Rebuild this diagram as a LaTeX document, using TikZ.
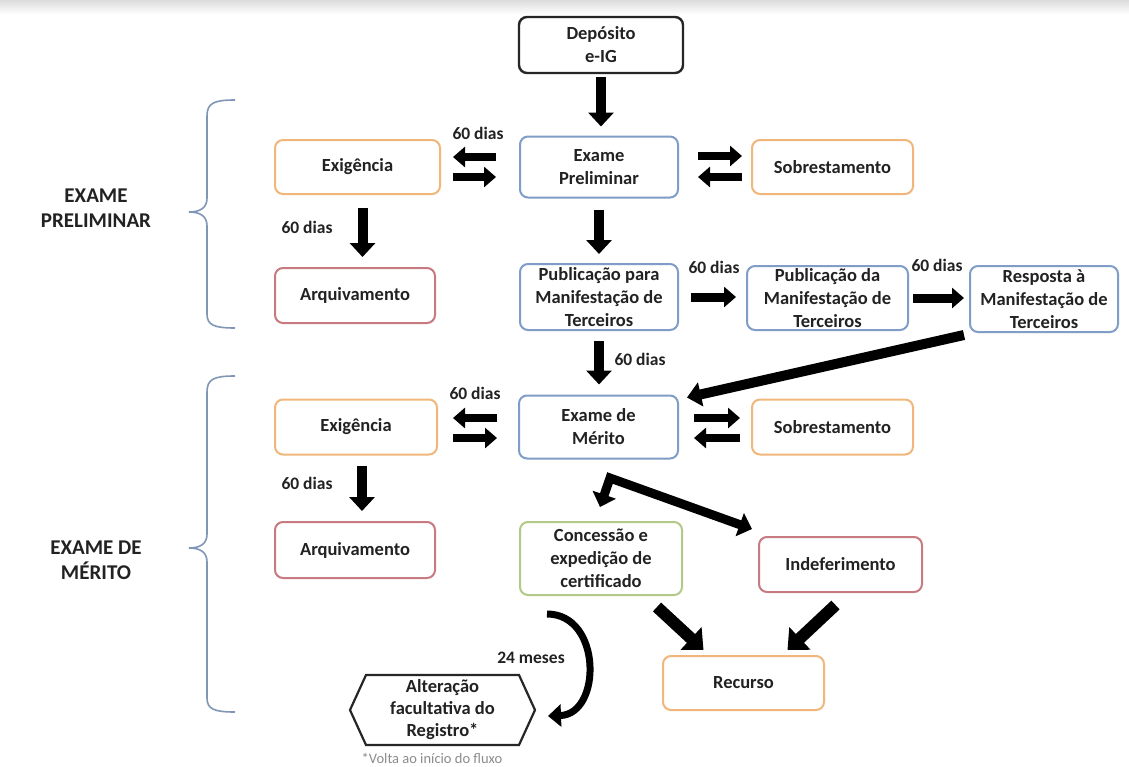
\documentclass[tikz,border=0pt]{standalone}
\usepackage{fontspec}
\setmainfont{Carlito}
\usetikzlibrary{arrows.meta}
\definecolor{cOr}{HTML}{F0B67A}
\definecolor{cBl}{HTML}{7F9DC6}
\definecolor{cRd}{HTML}{C77A80}
\definecolor{cGr}{HTML}{B3C987}
\definecolor{cBr}{HTML}{8096B6}
\definecolor{cTx}{HTML}{222222}
\tikzset{
  box/.style={draw, rounded corners=8pt, line width=2pt, fill=white, align=center,
    inner sep=0pt, text=cTx, font=\bfseries\fontsize{18.5}{23}\selectfont},
  obox/.style={box, draw=cOr},
  bbox/.style={box, draw=cBl},
  rbox/.style={box, draw=cRd},
  gbox/.style={box, draw=cGr},
  kbox/.style={box, draw=black!85, line width=2.4pt},
  lbl/.style={text=cTx, font=\bfseries\fontsize{17.5}{21}\selectfont, inner sep=0pt},
  side/.style={text=cTx, font=\bfseries\fontsize{21}{25}\selectfont, align=center, inner sep=0pt},
  bigarr/.style={draw=black, line width=10pt, -{Triangle[width=25pt,length=14pt]}},
  smarr/.style={draw=black, line width=8pt, -{Triangle[width=20pt,length=12pt]}},
  diagarr/.style={draw=black, line width=12pt, -{Triangle[width=30pt,length=17pt]}},
  longarr/.style={draw=black, line width=10pt, -{Triangle[width=24pt,length=14pt]}},
  bentarr/.style={draw=black, line width=9pt, {Triangle[width=24pt,length=13pt]}-{Triangle[width=24pt,length=13pt]}},
  curvarr/.style={draw=black, line width=7pt, -{Triangle[width=22pt,length=13pt]}},
  brace/.style={draw=cBr, line width=1.6pt}
}
\begin{document}
\begin{tikzpicture}[x=1pt,y=-1pt]
\useasboundingbox (0,0) rectangle (1129,766);
\fill[white] (0,0) rectangle (1129,766);
\shade[top color=black!14, bottom color=white] (0,0) rectangle (1129,14);

% braces
\draw[brace] (235,100) .. controls (214,100) and (207,103) .. (207,116) -- (207,198)
  .. controls (207,208) and (200,212) .. (189,212)
  .. controls (200,212) and (207,216) .. (207,226) -- (207,314)
  .. controls (207,325) and (214,328) .. (235,328);
\draw[brace] (235,376) .. controls (214,376) and (207,379) .. (207,392) -- (207,534)
  .. controls (207,544) and (200,548) .. (189,548)
  .. controls (200,548) and (207,552) .. (207,562) -- (207,698)
  .. controls (207,709) and (214,712) .. (235,712);
\node[side] (s1) at (96,208) {EXAME\\PRELIMINAR};
\node[side] (s2) at (96,560) {EXAME DE\\MÉRITO};

% boxes
\node[kbox, minimum width=164pt, minimum height=56pt] (dep) at (601,45) {Depósito\\e-IG};
\node[bbox, minimum width=158pt, minimum height=61pt] (ep) at (599,167) {Exame\\Preliminar};
\node[obox, minimum width=165pt, minimum height=54pt] (ex1) at (357.5,167) {Exigência};
\node[obox, minimum width=161pt, minimum height=54pt] (sob1) at (832.5,167) {Sobrestamento};
\node[rbox, minimum width=160pt, minimum height=55pt] (arq1) at (355,295.5) {Arquivamento};
\node[bbox, minimum width=158pt, minimum height=66pt] (pub1) at (599,297) {Publicação para\\Manifestação de\\Terceiros};
\node[bbox, minimum width=161pt, minimum height=64pt] (pub2) at (827.5,298) {Publicação da\\Manifestação de\\Terceiros};
\node[bbox, minimum width=148pt, minimum height=66pt] (resp) at (1044,299) {Resposta à\\Manifestação de\\Terceiros};
\node[bbox, minimum width=159pt, minimum height=63pt] (em) at (598.5,427) {Exame de\\Mérito};
\node[obox, minimum width=162pt, minimum height=55pt] (ex2) at (356,427) {Exigência};
\node[obox, minimum width=161pt, minimum height=55pt] (sob2) at (832.5,427) {Sobrestamento};
\node[rbox, minimum width=160pt, minimum height=56pt] (arq2) at (355,550) {Arquivamento};
\node[gbox, minimum width=162pt, minimum height=73pt] (conc) at (601,558.5) {Concessão e\\expedição de\\certificado};
\node[rbox, minimum width=163pt, minimum height=55pt] (ind) at (840.5,564.5) {Indeferimento};
\node[obox, minimum width=161pt, minimum height=54pt] (rec) at (743.5,683) {Recurso};

% hexagon
\draw[line width=2.2pt, draw=black!85, fill=white, line join=miter]
  (350,710) -- (366,675) -- (519,675) -- (535,710) -- (519,745) -- (366,745) -- cycle;
\coordinate (hexR) at (535,710);
\node[text=cTx, font=\bfseries\fontsize{18.5}{22}\selectfont, align=center, inner sep=0pt] (hex) at (442.5,710) {Alteração\\facultativa do\\Registro*};
\node[text=black!45, font=\fontsize{14.5}{17}\selectfont, inner sep=0pt] (nota) at (432,758) {*Volta ao início do fluxo};

% labels
\node[lbl] (l1) at (478,133) {60 dias};
\node[lbl] (l2) at (307,227) {60 dias};
\node[lbl] (l3) at (714,267) {60 dias};
\node[lbl] (l4) at (937,265) {60 dias};
\node[lbl] (l5) at (640,359) {60 dias};
\node[lbl] (l6) at (475,393) {60 dias};
\node[lbl] (l7) at (307,483) {60 dias};
\node[lbl] (l8) at (531,658) {24 meses};

% vertical arrows
\draw[bigarr] ([yshift=-3pt]dep.south) -- ([yshift=9pt]dep.south |- ep.north);
\draw[bigarr] ([yshift=-11pt]ep.south) -- ([yshift=9pt]ep.south |- pub1.north);
\draw[bigarr] ([yshift=-10pt]pub1.south) -- ([yshift=10pt]pub1.south |- em.north);
\draw[bigarr] ([xshift=5pt,yshift=-13pt]ex1.south) -- ([xshift=5pt,yshift=10pt]ex1.south |- arq1.north);
\draw[bigarr] ([xshift=6pt,yshift=-10pt]ex2.south) -- ([xshift=6pt,yshift=10pt]ex2.south |- arq2.north);

% side arrows row 1
\draw[smarr] ([xshift=-23pt,yshift=10pt]ep.west) -- ([xshift=12pt,yshift=10pt]ex1.east);
\draw[smarr] ([xshift=12pt,yshift=-10pt]ex1.east) -- ([xshift=-23pt,yshift=-10pt]ep.west);
\draw[smarr] ([xshift=19pt,yshift=11pt]ep.east) -- ([xshift=-9pt,yshift=11pt]sob1.west);
\draw[smarr] ([xshift=-9pt,yshift=-10pt]sob1.west) -- ([xshift=19pt,yshift=-10pt]ep.east);
% side arrows row 2
\draw[smarr] ([xshift=-21pt,yshift=9pt]em.west) -- ([xshift=15pt,yshift=9pt]ex2.east);
\draw[smarr] ([xshift=15pt,yshift=-11pt]ex2.east) -- ([xshift=-21pt,yshift=-11pt]em.west);
\draw[smarr] ([xshift=15pt,yshift=9pt]em.east) -- ([xshift=-11pt,yshift=9pt]sob2.west);
\draw[smarr] ([xshift=-11pt,yshift=-11pt]sob2.west) -- ([xshift=15pt,yshift=-11pt]em.east);

% horizontal arrows
\draw[smarr, line width=9pt] ([xshift=12pt]pub1.east) -- ([xshift=-10pt]pub1.east -| pub2.west);
\draw[smarr, line width=9pt] ([xshift=4pt]pub2.east) -- ([xshift=-5pt]pub2.east -| resp.west);

% long diagonal
\draw[longarr] ([xshift=-5pt,yshift=-2pt]resp.south west) -- ([xshift=8pt,yshift=-3pt]em.north east);

% bent arrow
\coordinate (corner) at (610,478);
\draw[bentarr, line join=miter] ([xshift=-1pt,yshift=14pt]conc.north) -- (corner) -- ([xshift=-6pt,yshift=7pt]ind.north west);

% to Recurso
\draw[diagarr] ([xshift=-26pt,yshift=-11pt]conc.south east) -- ([xshift=-40pt,yshift=5pt]rec.north);
\draw[diagarr] ([xshift=-5pt,yshift=-12pt]ind.south) -- ([xshift=44pt,yshift=5pt]rec.north);

% curved arrow
\draw[curvarr] ([xshift=28pt,yshift=-18pt]conc.south west) .. controls (602,614) and (602,714) .. ([xshift=13pt,yshift=-6pt]hexR);
\end{tikzpicture}
\end{document}
